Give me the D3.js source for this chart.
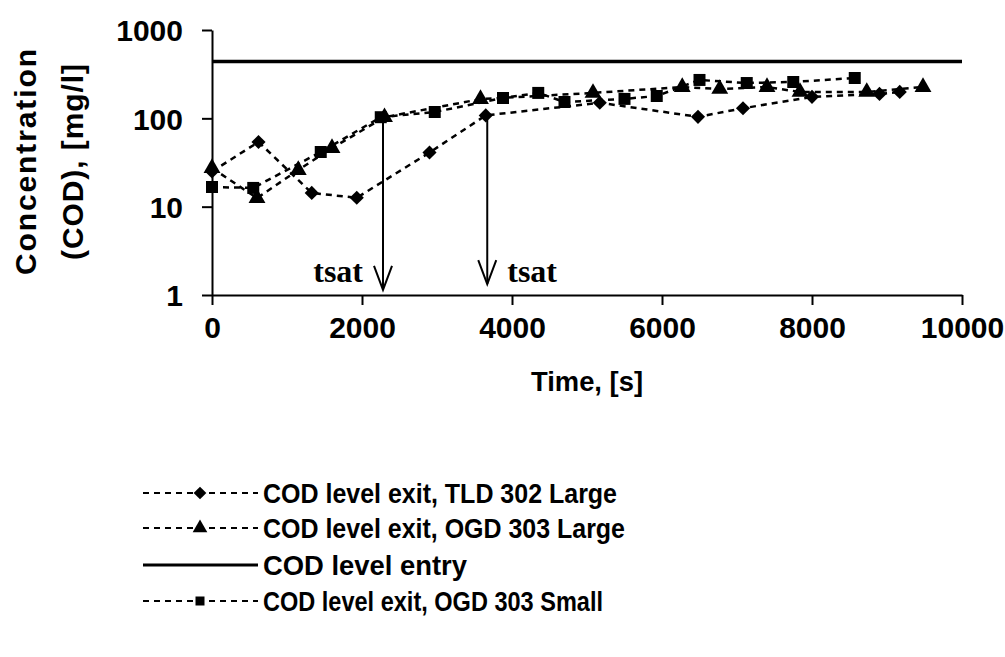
<!DOCTYPE html>
<html><head><meta charset="utf-8">
<script src="https://cdn.jsdelivr.net/npm/d3@7"></script>
<style>html,body{margin:0;padding:0;background:#fff;} svg{display:block;}</style>
</head><body>
<svg id="chart" width="1005" height="657"></svg>
<script>
// ---- data ----
const xTicks = [0, 2000, 4000, 6000, 8000, 10000];
const yTicks = [1, 10, 100, 1000];

const tldTime = [0, 620, 1330, 1930, 2900, 3650, 5170, 6480, 7080, 8000, 8900, 9170];
const tldCOD  = [25, 54, 14.3, 12.6, 41, 108, 150, 104, 130, 175, 189, 199];

const ogdLargeTime = [0, 600, 1150, 1600, 2300, 3580, 5080, 6270, 6770, 7400, 7840, 8730, 9480];
const ogdLargeCOD  = [27.4, 12.5, 26, 46, 103, 165, 194, 226, 215, 226, 199, 199, 226];

const entryTime = [0, 10000];
const entryCOD  = [440, 440];

const ogdSmallTime = [0, 550, 1450, 2250, 2970, 3880, 4350, 4700, 5500, 5930, 6500, 7130, 7750, 8570];
const ogdSmallCOD  = [16.7, 16.3, 41.6, 103, 118, 170, 194, 153, 166, 179, 272, 251, 258, 286];

const arrowTime = [2280, 3670];
const arrowFrom = [96, 109];
const arrowTo   = [1.14, 1.33];
const arrowLabel = ["tsat", "tsat"];

const legendLabels = [
  "COD level exit, TLD 302 Large",
  "COD level exit, OGD 303 Large",
  "COD level entry",
  "COD level exit, OGD 303 Small"
];
const xTitle = "Time, [s]";
const yTitle = ["Concentration", "(COD), [mg/l]"];

// ---- drawing ----
const svg = d3.select("#chart");
const FONT = "'Liberation Sans', Arial, sans-serif";
const x = d3.scaleLinear().domain([0, 10000]).range([212, 962]);
const y = d3.scaleLog().domain([1, 1000]).range([295, 30]);

// axes
const gx = svg.append("g").attr("transform", "translate(0,295)")
  .call(d3.axisBottom(x).tickValues(xTicks).tickFormat(d3.format("d")).tickSize(10).tickSizeOuter(0).tickPadding(12));
const gy = svg.append("g").attr("transform", "translate(212,0)")
  .call(d3.axisLeft(y).tickValues(yTicks).tickFormat(d3.format("d")).tickSize(10).tickSizeOuter(0).tickPadding(19));
[gx, gy].forEach(g => {
  g.select(".domain").attr("stroke", "#000").attr("stroke-width", 2);
  g.selectAll(".tick line").attr("stroke", "#000").attr("stroke-width", 2);
  g.selectAll(".tick text").attr("fill", "#000").style("font-family", FONT)
    .style("font-weight", "bold").style("font-size", "30px");
});
gy.selectAll(".tick text").attr("dy", "0.36em");

// axis titles
svg.append("text").attr("x", 587).attr("y", 391).attr("text-anchor", "middle")
  .style("font-family", FONT).style("font-weight", "bold").style("font-size", "28px")
  .attr("textLength", 112).attr("lengthAdjust", "spacingAndGlyphs")
  .text(xTitle);
const ylab = [{t: yTitle[0], x: 36, len: 226}, {t: yTitle[1], x: 83, len: 196}];
ylab.forEach(d => {
  svg.append("text").attr("transform", `translate(${d.x},162) rotate(-90)`)
    .attr("text-anchor", "middle").style("font-family", FONT).style("font-weight", "bold")
    .style("font-size", "30px").attr("textLength", d.len).attr("lengthAdjust", "spacing")
    .text(d.t);
});

// marker shapes
function marker(g, type, cx, cy, s) {
  let p;
  if (type === "diamond") p = d3.symbol().type(d3.symbolSquare).size(s * s)();
  else if (type === "triangle") p = d3.symbol().type(d3.symbolTriangle).size(s * s * 0.55)();
  else p = d3.symbol().type(d3.symbolSquare).size(s * s)();
  const t = type === "diamond" ? `translate(${cx},${cy}) rotate(45)` : `translate(${cx},${cy})`;
  g.append("path").attr("d", p).attr("transform", t).attr("fill", "#000");
}

const series = [
  {t: tldTime, v: tldCOD, type: "diamond", size: 10, dashed: true},
  {t: ogdLargeTime, v: ogdLargeCOD, type: "triangle", size: 15, dashed: true},
  {t: entryTime, v: entryCOD, type: null, dashed: false},
  {t: ogdSmallTime, v: ogdSmallCOD, type: "square", size: 12, dashed: true}
];
const line = d3.line().x(d => x(d[0])).y(d => y(d[1]));
const plot = svg.append("g");
series.forEach(s => {
  const pts = s.t.map((t, i) => [t, s.v[i]]);
  plot.append("path").attr("d", line(pts)).attr("fill", "none").attr("stroke", "#000")
    .attr("stroke-width", s.dashed ? 2.5 : 3.5)
    .attr("stroke-dasharray", s.dashed ? "6,5" : null);
});
series.forEach(s => {
  if (!s.type) return;
  s.t.forEach((t, i) => marker(plot, s.type, x(t), y(s.v[i]), s.size));
});

// arrows
arrowTime.forEach((t, i) => {
  const ax = x(t), y0 = y(arrowFrom[i]), y1 = y(arrowTo[i]);
  svg.append("line").attr("x1", ax).attr("x2", ax).attr("y1", y0).attr("y2", y1)
    .attr("stroke", "#000").attr("stroke-width", 2);
  svg.append("path").attr("d", `M${ax - 9},${y1 - 24} L${ax},${y1} L${ax + 9},${y1 - 24}`)
    .attr("fill", "none").attr("stroke", "#000").attr("stroke-width", 2);
  const left = i === 0;
  svg.append("text").attr("x", left ? ax - 20 : ax + 20).attr("y", 282)
    .attr("text-anchor", left ? "end" : "start")
    .style("font-family", "'Liberation Serif', 'Times New Roman', serif")
    .style("font-weight", "bold").style("font-size", "32px").text(arrowLabel[i]);
});

// legend
const legY = [493, 528, 565, 601];
const legLen = [354, 362, 204, 340];
series.forEach((s, i) => {
  const g = svg.append("g").attr("transform", `translate(0,${legY[i]})`);
  g.append("line").attr("x1", 143).attr("x2", 258).attr("y1", 0).attr("y2", 0)
    .attr("stroke", "#000").attr("stroke-width", s.dashed ? 2 : 3)
    .attr("stroke-dasharray", s.dashed ? "6,5" : null);
  if (s.type) marker(g, s.type, 200, 0, s.type === "triangle" ? 13 : 9);
  g.append("text").attr("x", 263).attr("y", 0).attr("dy", "0.36em")
    .style("font-family", FONT).style("font-weight", "bold").style("font-size", "28px")
    .attr("textLength", legLen[i]).attr("lengthAdjust", "spacingAndGlyphs")
    .text(legendLabels[i]);
});
</script>
</body></html>
